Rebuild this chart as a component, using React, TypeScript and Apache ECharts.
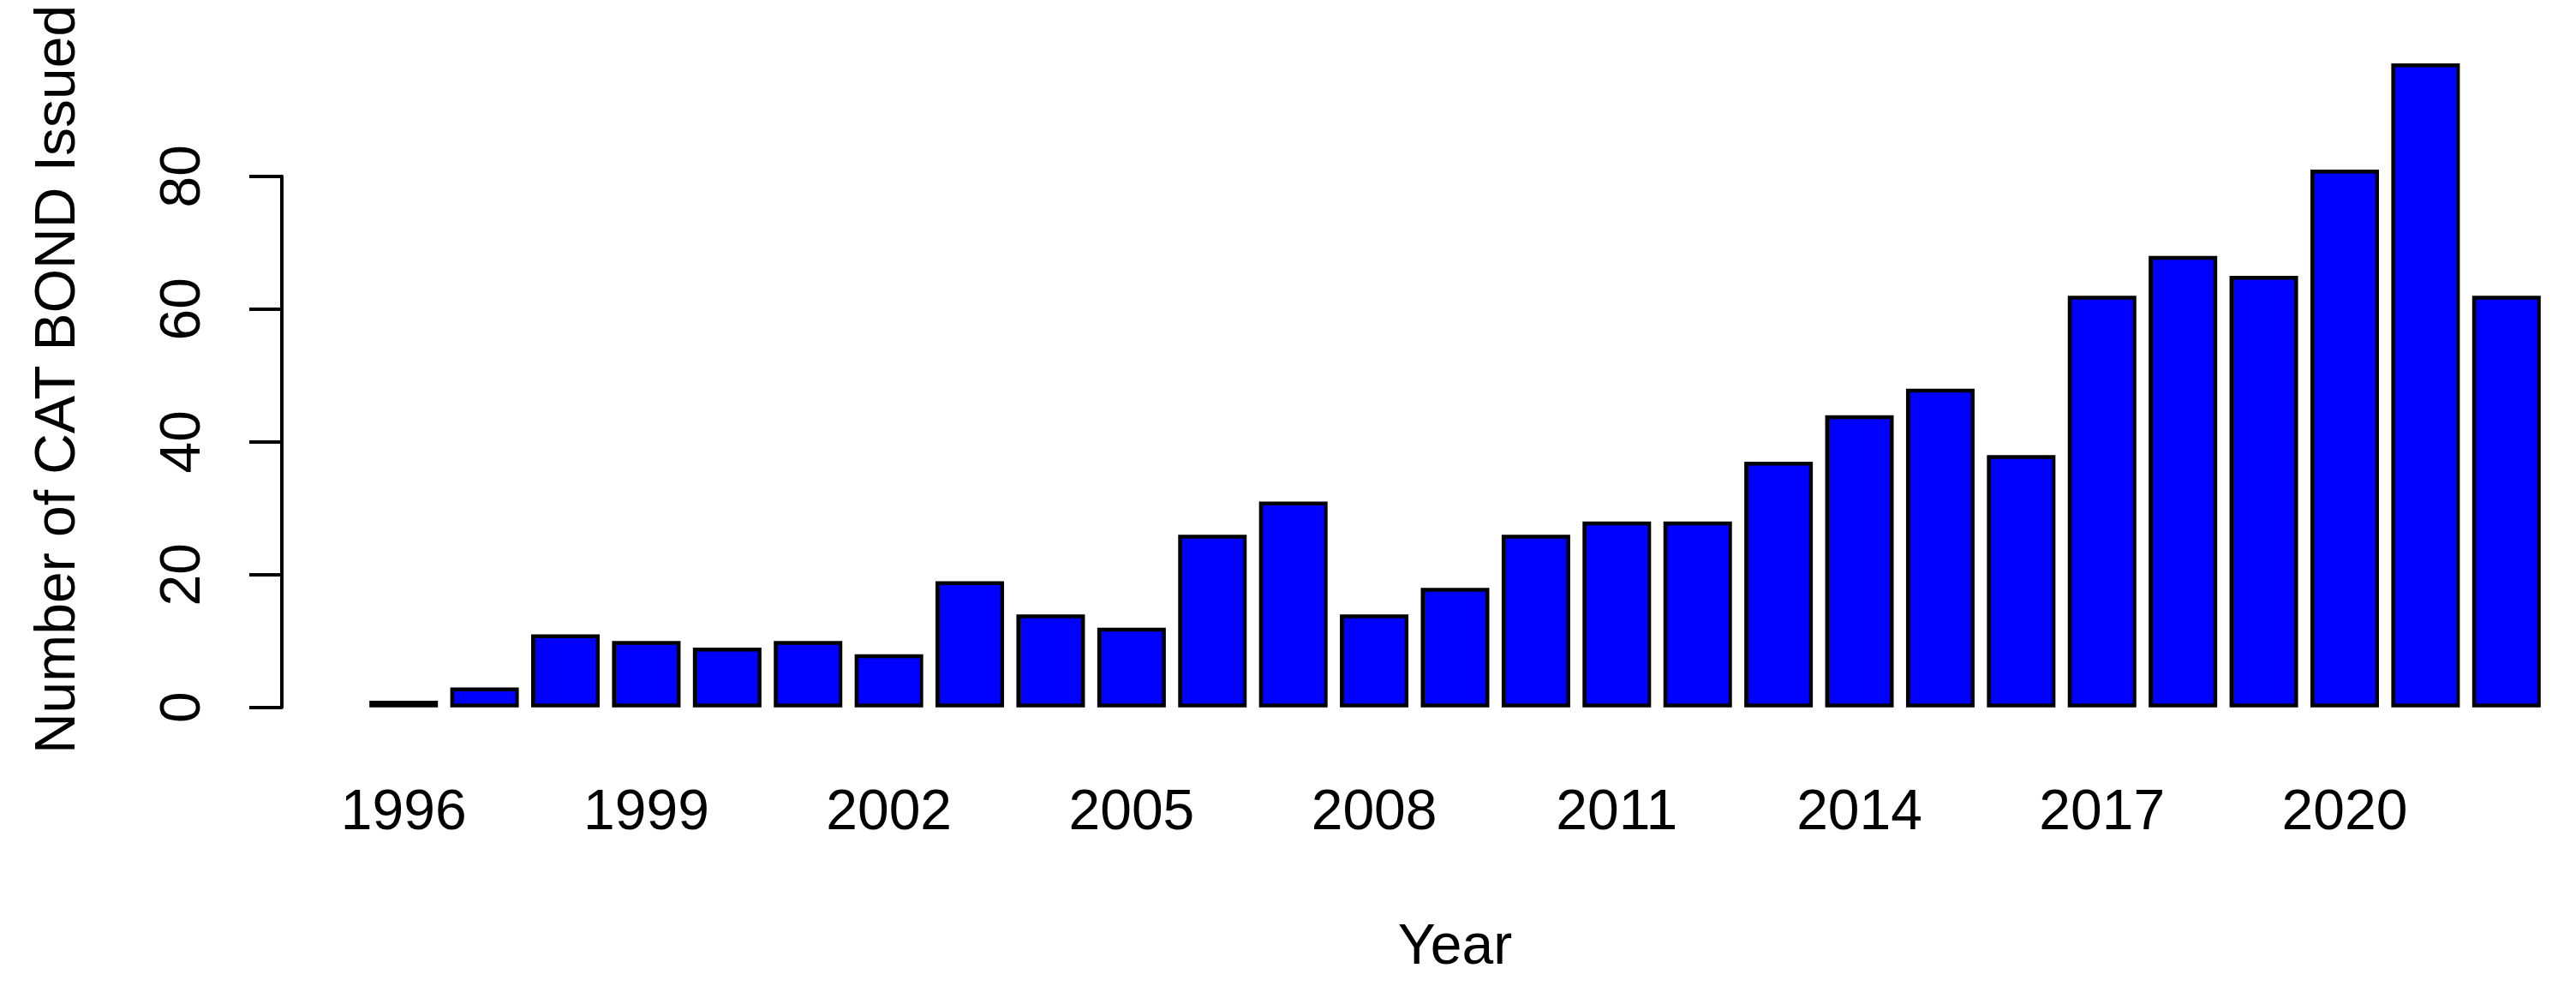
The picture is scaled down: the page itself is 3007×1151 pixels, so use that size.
import React, { useEffect, useRef } from 'react';
import * as echarts from 'echarts';

const years = [
  '1996', '1997', '1998', '1999', '2000', '2001', '2002', '2003', '2004',
  '2005', '2006', '2007', '2008', '2009', '2010', '2011', '2012', '2013',
  '2014', '2015', '2016', '2017', '2018', '2019', '2020', '2021', '2022',
];
const catBondsIssued = [
  1, 3, 11, 10, 9, 10, 8, 19, 14,
  12, 26, 31, 14, 18, 26, 28, 28, 37,
  44, 48, 38, 62, 68, 65, 81, 97, 62,
];
const xAxisTitle = 'Year';
const yAxisTitle = 'Number of CAT BOND Issued';
const yTickMin = 0;
const yTickMax = 80;
const yTickStep = 20;

export default function App() {
  const ref = useRef<HTMLDivElement>(null);
  useEffect(() => {
    if (!ref.current) return;
    const chart = echarts.init(ref.current, null, { renderer: 'svg' });
    const font = "'Liberation Sans', Arial, sans-serif";
    const fs = 66;
    chart.setOption({
      animation: false,
      backgroundColor: '#ffffff',
      grid: { left: 424, right: 34, top: 205.7, bottom: 325.3, containLabel: false },
      xAxis: {
        type: 'category',
        data: years,
        axisLine: { show: false },
        axisTick: { show: false },
        splitLine: { show: false },
        axisLabel: { interval: 2, fontSize: fs, fontFamily: font, color: '#000', margin: 86 },
        name: xAxisTitle,
        nameLocation: 'middle',
        nameGap: 243,
        nameTextStyle: { fontSize: fs, fontFamily: font, color: '#000' },
      },
      yAxis: {
        type: 'value',
        min: yTickMin,
        max: yTickMax,
        interval: yTickStep,
        offset: 95,
        axisLine: { show: true, lineStyle: { color: '#000', width: 4 } },
        axisTick: { show: true, length: 38, lineStyle: { color: '#000', width: 4 } },
        axisLabel: { rotate: 90, fontSize: fs, fontFamily: font, color: '#000', margin: 86 },
        splitLine: { show: false },
      },
      series: [
        {
          type: 'bar',
          data: catBondsIssued,
          barWidth: 80,
          clip: false,
          itemStyle: { color: '#0000FF', borderColor: '#000000', borderWidth: 4.5 },
        },
      ],
      graphic: [
        {
          type: 'text',
          x: 64,
          y: 443,
          rotation: Math.PI / 2,
          style: {
            text: yAxisTitle,
            font: `${fs}px ${font}`,
            fill: '#000',
            textAlign: 'center',
            textVerticalAlign: 'middle',
            verticalAlign: 'middle',
          },
        },
      ],
    });
    return () => chart.dispose();
  }, []);
  return (
    <div
      ref={ref}
      style={{ position: 'fixed', left: 0, top: 0, width: 3007, height: 1151, background: '#fff' }}
    />
  );
}
